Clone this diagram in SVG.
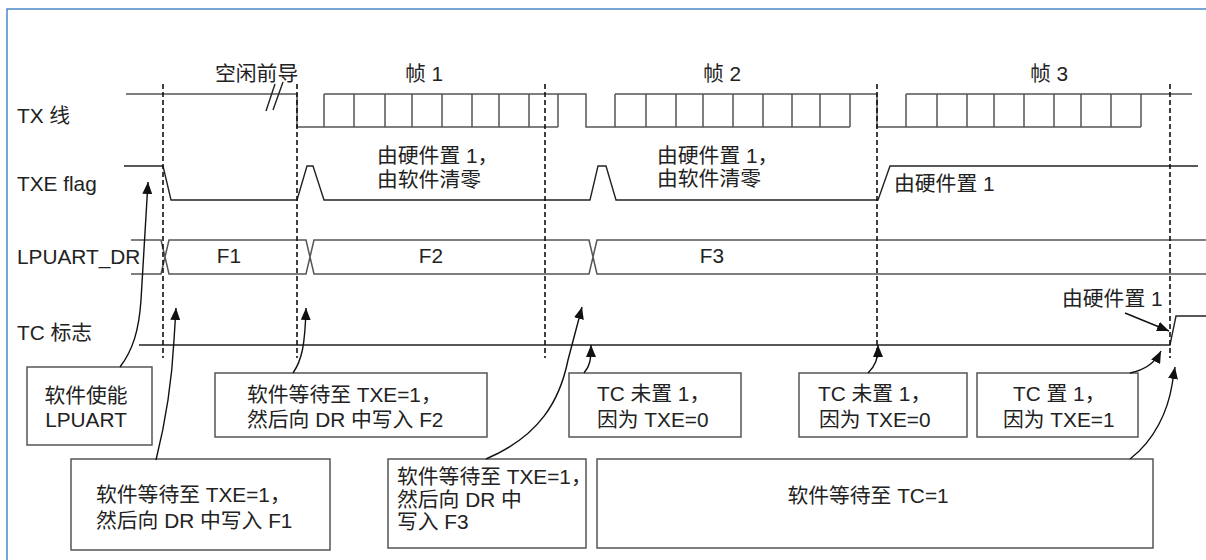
<svg xmlns="http://www.w3.org/2000/svg" width="1206" height="560" viewBox="0 0 1206 560">
<style>
text{font-family:"Liberation Sans","Noto Sans CJK SC",sans-serif;font-size:20.8px;fill:#222}
.sig{fill:none;stroke:#555;stroke-width:1.5}
.sigk{fill:none;stroke:#222;stroke-width:1.4}
.dash{fill:none;stroke:#111;stroke-width:1.6;stroke-dasharray:5,3}
.box{fill:#fff;stroke:#555;stroke-width:1.5}
.con{fill:none;stroke:#111;stroke-width:1.4;marker-end:url(#ah)}
.mid{text-anchor:middle}
</style>
<defs>
<marker id="ah" viewBox="0 0 12 10" refX="12" refY="5" markerWidth="12" markerHeight="10" markerUnits="userSpaceOnUse" orient="auto">
<path d="M0,0 L12,5 L0,10 z" fill="#111"/>
</marker>
</defs>
<rect x="0" y="0" width="1206" height="560" fill="#fff"/>
<rect x="7" y="9" width="1220" height="570" fill="none" stroke="#4a86c8" stroke-width="1.5"/>

<g id="signal-labels">
<text x="17" y="123">TX 线</text>
<text x="17" y="191">TXE flag</text>
<text x="17" y="264">LPUART_DR</text>
<text x="17" y="340">TC 标志</text>
</g>

<g id="top-labels">
<text x="215" y="81">空闲前导</text>
<text x="405" y="81">帧 1</text>
<text x="703" y="81">帧 2</text>
<text x="1030" y="81">帧 3</text>
</g>

<g id="tx-line">
<path class="sig" d="M126,94 H297 V127 H558 M324,94 H586 V127 H850 M615,94 H877 V127 H1141 M906,94 H1192"/>
<path class="sig" d="M324,94V127 M354,94V127 M385,94V127 M412,94V127 M442,94V127 M472,94V127 M499,94V127 M529,94V127 M558,94V127
M615,94V127 M646,94V127 M676,94V127 M703,94V127 M733,94V127 M763,94V127 M792,94V127 M820,94V127 M850,94V127
M906,94V127 M937,94V127 M967,94V127 M994,94V127 M1024,94V127 M1054,94V127 M1081,94V127 M1111,94V127 M1141,94V127"/>
<path class="sigk" d="M266,111 L275,84 M273,110 L283,82"/>
</g>

<g id="txe-flag">
<path class="sigk" d="M124,166 H163 L171,200 H297 L307,166 H313 L324,200 H590 L598,166 H606 L616,200 H878 L890,166 H1198"/>
<text x="377" y="163">由硬件置 1，</text>
<text x="377" y="187">由软件清零</text>
<text x="657" y="163">由硬件置 1，</text>
<text x="657" y="186">由软件清零</text>
<text x="894" y="191">由硬件置 1</text>
</g>

<g id="lpuart-dr">
<path class="sig" d="M131,240 H161 L169,274 H306 L314,240 H589 L597,274 H1206 M131,274 H161 L169,240 H306 L314,274 H589 L597,240 H1206"/>
<text class="mid" x="229" y="263">F1</text>
<text class="mid" x="431" y="263">F2</text>
<text class="mid" x="712" y="263">F3</text>
</g>

<g id="tc-flag">
<path class="sigk" d="M139,345 H1170 L1176,316 H1206"/>
<text x="1062" y="306">由硬件置 1</text>
</g>

<g id="markers">
<path class="dash" d="M163,84 V358 M297,84 V358 M545,84 V358 M877,84 V358 M1170,84 V358"/>
</g>

<g id="box-enable">
<rect class="box" x="27" y="367" width="125" height="78"/>
<text class="mid" x="86" y="403">软件使能</text>
<text class="mid" x="86" y="427">LPUART</text>
</g>
<g id="box-f1">
<rect class="box" x="71" y="459" width="259" height="91"/>
<text x="96" y="502">软件等待至 TXE=1，</text>
<text x="96" y="528">然后向 DR 中写入 F1</text>
</g>
<g id="box-f2">
<rect class="box" x="215" y="373" width="272" height="64"/>
<text x="247" y="402">软件等待至 TXE=1，</text>
<text x="247" y="427">然后向 DR 中写入 F2</text>
</g>
<g id="box-f3">
<rect class="box" x="388" y="459" width="198" height="89"/>
<text x="397" y="484">软件等待至 TXE=1，</text>
<text x="397" y="507">然后向 DR 中</text>
<text x="397" y="529">写入 F3</text>
</g>
<g id="box-tc0-a">
<rect class="box" x="569" y="373" width="172" height="64"/>
<text x="597" y="401">TC 未置 1，</text>
<text x="597" y="427">因为 TXE=0</text>
</g>
<g id="box-tc-wait">
<rect class="box" x="597" y="459" width="556" height="89"/>
<text class="mid" x="868" y="503">软件等待至 TC=1</text>
</g>
<g id="box-tc0-b">
<rect class="box" x="799" y="373" width="168" height="64"/>
<text x="818" y="401">TC 未置 1，</text>
<text x="819" y="427">因为 TXE=0</text>
</g>
<g id="box-tc1">
<rect class="box" x="977" y="373" width="161" height="64"/>
<text x="1013" y="401">TC 置 1，</text>
<text x="1003" y="427">因为 TXE=1</text>
</g>

<g id="connectors">
<path class="con" d="M120,367 C133,350 139,330 141,300 L148,182"/>
<path class="con" d="M156,460 C166,420 172,380 174,340 L176,308"/>
<path class="con" d="M293,373 C302,360 305,345 306,308"/>
<path class="con" d="M486,459 C540,436 560,400 568,360 L582,307"/>
<path class="con" d="M584,373 C590,366 591,360 591,345"/>
<path class="con" d="M868,373 C875,366 878,360 878,345"/>
<path class="con" d="M1130,373 C1145,370 1155,363 1161,351"/>
<path class="con" d="M1130,459 C1155,440 1168,410 1172,385 L1175,367"/>
<path class="con" d="M1125,313 L1169,331"/>
</g>
</svg>
